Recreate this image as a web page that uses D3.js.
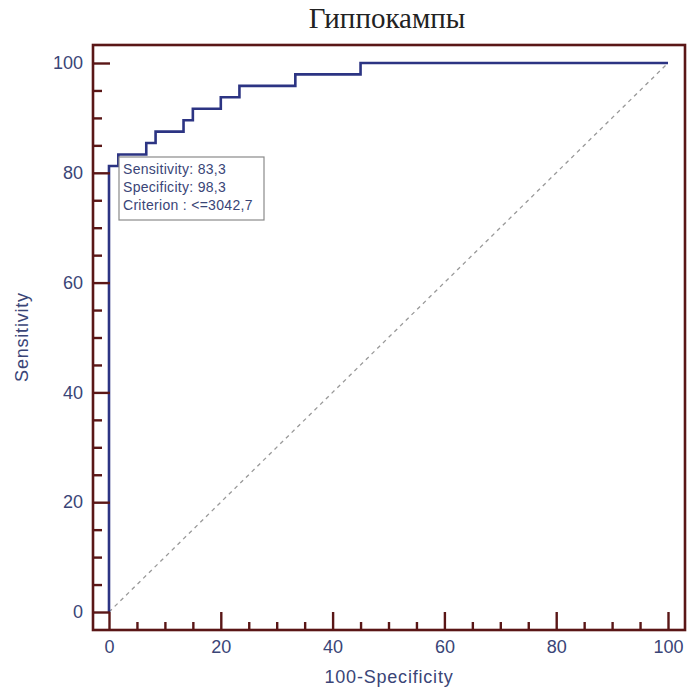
<!DOCTYPE html>
<html>
<head>
<meta charset="utf-8">
<script src="https://cdn.jsdelivr.net/npm/d3@7"></script>
<style>
  body { margin: 0; background: #fff; }
  svg text { font-family: "Liberation Sans", Arial, sans-serif; }
</style>
</head>
<body>
<svg id="chart" width="689" height="692"></svg>
<script>
// ROC curve corners (100-Specificity, Sensitivity), in %
const fpr = [0, 0, 1.667, 6.667, 8.333, 13.333, 15, 20, 23.333, 33.333, 45, 100];
const tpr = [0, 81.25, 83.33, 85.42, 87.5, 89.58, 91.67, 93.75, 95.83, 97.92, 100, 100];
const majorTicks = [0, 20, 40, 60, 80, 100];
const minorTicks = d3.range(0, 101, 5).filter(v => v % 20 !== 0);
const infoLines = ["Sensitivity: 83,3", "Specificity: 98,3", "Criterion : <=3042,7"];

const frameCol = "#5a1616";
const curveCol = "#2c3483";
const textCol = "#3a4577";

const svg = d3.select("#chart");

const x = d3.scaleLinear().domain([0, 100]).range([109, 668]);
const y = d3.scaleLinear().domain([0, 100]).range([612, 63]);

const frame = { left: 93, right: 685, top: 45, bottom: 630 };

// title
svg.append("text")
   .attr("x", 387).attr("y", 28)
   .attr("text-anchor", "middle")
   .style("font-family", "'Liberation Serif', 'Times New Roman', serif")
   .style("font-size", "29px")
   .attr("fill", "#222")
   .text("Гиппокампы");

// diagonal reference line
svg.append("line")
   .attr("x1", x(0)).attr("y1", y(0))
   .attr("x2", x(100)).attr("y2", y(100))
   .attr("stroke", "#999")
   .attr("stroke-width", 1.3)
   .attr("stroke-dasharray", "4,4");

// roc curve
const line = d3.line()
    .x((d, i) => x(fpr[i]))
    .y(d => y(d))
    .curve(d3.curveStepAfter);

svg.append("path")
   .datum(tpr)
   .attr("d", line)
   .attr("fill", "none")
   .attr("stroke", curveCol)
   .attr("stroke-width", 2.6);

// axes (ticks pointing inward)
function styleAxis(g) {
    g.select(".domain").remove();
    g.selectAll("line").attr("stroke", frameCol).attr("stroke-width", 2.4);
    g.selectAll("text").attr("fill", textCol).style("font-size", "18px");
}

svg.append("g")
   .attr("transform", `translate(0,${frame.bottom})`)
   .call(d3.axisBottom(x).tickValues(minorTicks).tickSizeInner(-8).tickSizeOuter(0).tickFormat(""))
   .call(styleAxis);

svg.append("g")
   .attr("transform", `translate(0,${frame.bottom})`)
   .call(d3.axisBottom(x).tickValues(majorTicks).tickSizeInner(-18).tickSizeOuter(0).tickPadding(10))
   .call(styleAxis);

svg.append("g")
   .attr("transform", `translate(${frame.left},0)`)
   .call(d3.axisLeft(y).tickValues(minorTicks).tickSizeInner(-9).tickSizeOuter(0).tickFormat(""))
   .call(styleAxis);

svg.append("g")
   .attr("transform", `translate(${frame.left},0)`)
   .call(d3.axisLeft(y).tickValues(majorTicks).tickSizeInner(-17).tickSizeOuter(0).tickPadding(10))
   .call(styleAxis);

// frame
svg.append("rect")
   .attr("x", frame.left).attr("y", frame.top)
   .attr("width", frame.right - frame.left)
   .attr("height", frame.bottom - frame.top)
   .attr("fill", "none")
   .attr("stroke", frameCol)
   .attr("stroke-width", 2.6);

// axis titles
svg.append("text")
   .attr("x", 389).attr("y", 683)
   .attr("text-anchor", "middle")
   .attr("fill", textCol)
   .style("font-size", "18px")
   .style("letter-spacing", "0.8px")
   .text("100-Specificity");

svg.append("text")
   .attr("transform", "translate(28,337) rotate(-90)")
   .attr("text-anchor", "middle")
   .attr("fill", textCol)
   .style("font-size", "18px")
   .style("letter-spacing", "0.8px")
   .text("Sensitivity");

// info box
const box = svg.append("g").attr("transform", "translate(119,157)");
box.append("rect")
   .attr("width", 145).attr("height", 63)
   .attr("fill", "#fff")
   .attr("stroke", "#8a8a8a")
   .attr("stroke-width", 1.2);

box.selectAll("text.info")
   .data(infoLines)
   .enter()
   .append("text")
   .attr("class", "info")
   .attr("x", 4)
   .attr("y", (d, i) => 16.5 + i * 18.3)
   .attr("fill", textCol)
   .style("font-size", "14px")
   .style("letter-spacing", "0.3px")
   .text(d => d);
</script>
</body>
</html>
